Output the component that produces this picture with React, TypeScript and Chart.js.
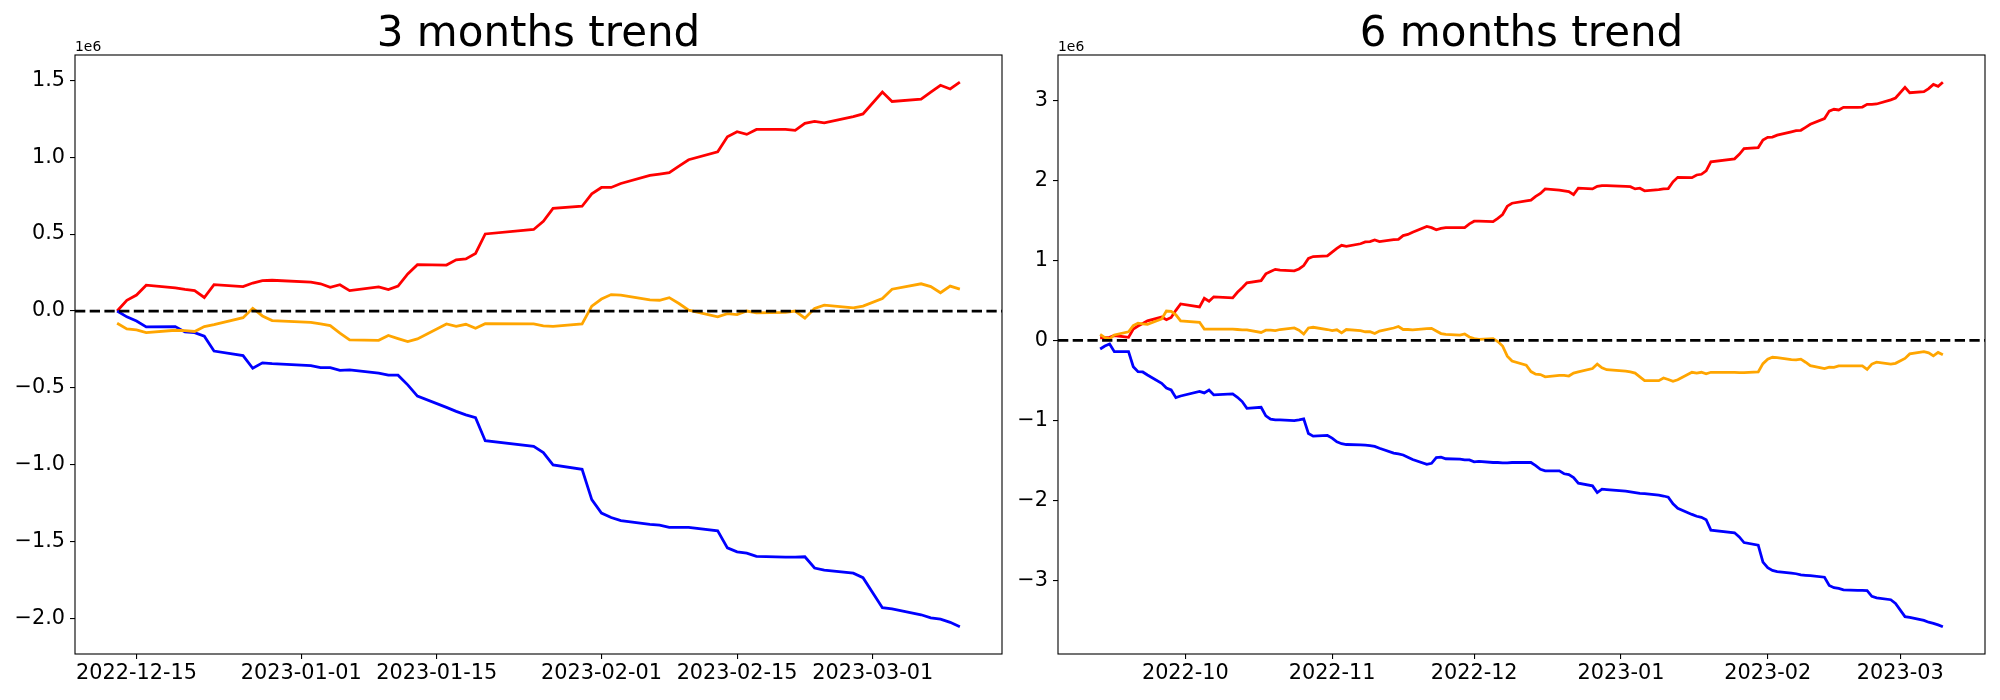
import React, { useEffect, useRef } from "react";
import { Chart, registerables } from "chart.js";

Chart.register(...registerables);

const SCALE = 1e6;

// trading days of the 6-month window
const dates6 = [
  "2022-09-13", "2022-09-14", "2022-09-15", "2022-09-16", "2022-09-19", "2022-09-20", "2022-09-21", "2022-09-22", "2022-09-23",
  "2022-09-26", "2022-09-27", "2022-09-28", "2022-09-29", "2022-09-30", "2022-10-04", "2022-10-05", "2022-10-06", "2022-10-07",
  "2022-10-11", "2022-10-12", "2022-10-13", "2022-10-14", "2022-10-17", "2022-10-18", "2022-10-19", "2022-10-20", "2022-10-21",
  "2022-10-24", "2022-10-25", "2022-10-26", "2022-10-27", "2022-10-28", "2022-10-31", "2022-11-01", "2022-11-02", "2022-11-03",
  "2022-11-04", "2022-11-07", "2022-11-08", "2022-11-09", "2022-11-10", "2022-11-11", "2022-11-14", "2022-11-15", "2022-11-16",
  "2022-11-17", "2022-11-18", "2022-11-21", "2022-11-22", "2022-11-23", "2022-11-24", "2022-11-25", "2022-11-28", "2022-11-29",
  "2022-11-30", "2022-12-01", "2022-12-02", "2022-12-05", "2022-12-06", "2022-12-07", "2022-12-08", "2022-12-09", "2022-12-12",
  "2022-12-13", "2022-12-14", "2022-12-15", "2022-12-16", "2022-12-19", "2022-12-20", "2022-12-21", "2022-12-22", "2022-12-23",
  "2022-12-26", "2022-12-27", "2022-12-28", "2022-12-29", "2023-01-02", "2023-01-03", "2023-01-04", "2023-01-05", "2023-01-06",
  "2023-01-09", "2023-01-10", "2023-01-11", "2023-01-12", "2023-01-13", "2023-01-16", "2023-01-17", "2023-01-18", "2023-01-19",
  "2023-01-20", "2023-01-25", "2023-01-26", "2023-01-27", "2023-01-30", "2023-01-31", "2023-02-01", "2023-02-02", "2023-02-03",
  "2023-02-06", "2023-02-07", "2023-02-08", "2023-02-09", "2023-02-10", "2023-02-13", "2023-02-14", "2023-02-15", "2023-02-16",
  "2023-02-17", "2023-02-20", "2023-02-21", "2023-02-22", "2023-02-23", "2023-02-24", "2023-02-27", "2023-02-28", "2023-03-02",
  "2023-03-03", "2023-03-06", "2023-03-07", "2023-03-08", "2023-03-09", "2023-03-10",
];

// 6-month series (in units of 1e6)
const red6 = [
  0.033, 0.035, 0.038, 0.061, 0.038, 0.141, 0.179, 0.211, 0.244,
  0.291, 0.258, 0.287, 0.376, 0.456, 0.418, 0.526, 0.489, 0.545,
  0.531, 0.602, 0.658, 0.719, 0.747, 0.832, 0.86, 0.888, 0.879,
  0.869, 0.893, 0.935, 1.024, 1.048, 1.057, 1.104, 1.151, 1.189,
  1.175, 1.208, 1.231, 1.236, 1.255, 1.236, 1.259, 1.264, 1.311,
  1.325, 1.353, 1.424, 1.41, 1.382, 1.4, 1.41, 1.41, 1.41,
  1.457, 1.49, 1.49, 1.485, 1.527, 1.574, 1.678, 1.715, 1.743,
  1.753, 1.8, 1.837, 1.894, 1.88, 1.87, 1.861, 1.823, 1.903,
  1.894, 1.927, 1.936, 1.936, 1.927, 1.922, 1.894, 1.903, 1.87,
  1.884, 1.894, 1.898, 1.983, 2.039, 2.035, 2.068, 2.077, 2.119,
  2.232, 2.27, 2.326, 2.397, 2.411, 2.505, 2.538, 2.542, 2.566,
  2.608, 2.622, 2.627, 2.664, 2.702, 2.773, 2.867, 2.89, 2.881,
  2.914, 2.914, 2.918, 2.951, 2.951, 2.956, 3.008, 3.031, 3.163,
  3.097, 3.111, 3.148, 3.2, 3.177, 3.228,
];
const blue6 = [
  -0.108, -0.07, -0.046, -0.141, -0.141, -0.329, -0.391, -0.395, -0.433,
  -0.537, -0.595, -0.62, -0.716, -0.695, -0.637, -0.657, -0.62, -0.682,
  -0.67, -0.711, -0.765, -0.849, -0.836, -0.944, -0.986, -0.994, -0.994,
  -1.003, -0.994, -0.982, -1.165, -1.198, -1.189, -1.222, -1.269, -1.292,
  -1.302, -1.306, -1.311, -1.316, -1.325, -1.349, -1.41, -1.419, -1.433,
  -1.461, -1.49, -1.551, -1.537, -1.466, -1.461, -1.48, -1.485, -1.494,
  -1.494, -1.518, -1.513, -1.527, -1.527, -1.532, -1.532, -1.527, -1.527,
  -1.527, -1.565, -1.612, -1.631, -1.631, -1.668, -1.678, -1.715, -1.786,
  -1.819, -1.903, -1.861, -1.866, -1.884, -1.894, -1.903, -1.913, -1.917,
  -1.936, -1.946, -1.96, -2.044, -2.1, -2.176, -2.199, -2.213, -2.242,
  -2.373, -2.406, -2.458, -2.528, -2.561, -2.773, -2.843, -2.876, -2.89,
  -2.909, -2.918, -2.932, -2.937, -2.942, -2.961, -3.064, -3.092, -3.101,
  -3.12, -3.125, -3.125, -3.13, -3.2, -3.219, -3.243, -3.29, -3.454,
  -3.464, -3.501, -3.524, -3.538, -3.557, -3.581,
];
const orange6 = [
  0.075, 0.035, 0.018, 0.068, 0.108, 0.185, 0.215, 0.205, 0.2,
  0.268, 0.367, 0.362, 0.32, 0.244, 0.226, 0.141, 0.141, 0.141,
  0.141, 0.136, 0.132, 0.132, 0.099, 0.127, 0.127, 0.122, 0.136,
  0.155, 0.127, 0.08, 0.155, 0.164, 0.136, 0.122, 0.132, 0.094,
  0.136, 0.122, 0.108, 0.108, 0.085, 0.117, 0.155, 0.174, 0.136,
  0.136, 0.132, 0.146, 0.15, 0.117, 0.085, 0.075, 0.066, 0.08,
  0.042, 0.023, 0.014, 0.023, -0.014, -0.07, -0.197, -0.258, -0.31,
  -0.39, -0.423, -0.428, -0.456, -0.437, -0.437, -0.446, -0.409, -0.395,
  -0.352, -0.296, -0.343, -0.367, -0.385, -0.395, -0.409, -0.456, -0.503,
  -0.503, -0.47, -0.489, -0.512, -0.493, -0.399, -0.409, -0.399, -0.418,
  -0.399, -0.399, -0.404, -0.404, -0.395, -0.291, -0.235, -0.211, -0.216,
  -0.24, -0.244, -0.235, -0.273, -0.315, -0.352, -0.334, -0.338, -0.32,
  -0.32, -0.32, -0.32, -0.362, -0.296, -0.273, -0.296, -0.287, -0.226,
  -0.169, -0.141, -0.155, -0.193, -0.15, -0.179,
];

// trading days of the 3-month window
const dates3 = dates6.slice(dates6.indexOf("2022-12-13"));

// 3-month series (in units of 1e6)
const red3 = [
  0, 0.07, 0.104, 0.168, 0.15, 0.14, 0.133, 0.088, 0.172, 0.159,
  0.182, 0.197, 0.2, 0.188, 0.177, 0.154, 0.171, 0.133, 0.157, 0.139,
  0.162, 0.241, 0.301, 0.299, 0.333, 0.339, 0.374, 0.501, 0.53, 0.583,
  0.667, 0.681, 0.762, 0.803, 0.803, 0.829, 0.881, 0.89, 0.899, 0.942,
  0.983, 1.035, 1.133, 1.165, 1.148, 1.18, 1.18, 1.174, 1.22, 1.232,
  1.223, 1.264, 1.281, 1.423, 1.362, 1.377, 1.423, 1.467, 1.443, 1.487,
];
const blue3 = [
  0, -0.038, -0.065, -0.103, -0.101, -0.136, -0.141, -0.164, -0.26, -0.29,
  -0.372, -0.337, -0.342, -0.355, -0.368, -0.368, -0.386, -0.383, -0.403, -0.417,
  -0.417, -0.48, -0.553, -0.626, -0.652, -0.675, -0.693, -0.843, -0.88, -0.92,
  -1.0, -1.029, -1.226, -1.313, -1.342, -1.362, -1.386, -1.391, -1.406, -1.406,
  -1.406, -1.429, -1.539, -1.565, -1.574, -1.594, -1.6, -1.6, -1.597, -1.67,
  -1.684, -1.704, -1.733, -1.928, -1.936, -1.974, -1.994, -2.003, -2.023, -2.052,
];
const orange3 = [
  -0.079, -0.116, -0.123, -0.14, -0.125, -0.127, -0.133, -0.101, -0.088, -0.043,
  0.018, -0.032, -0.062, -0.073, -0.084, -0.095, -0.144, -0.188, -0.19, -0.159,
  -0.179, -0.198, -0.181, -0.084, -0.099, -0.086, -0.112, -0.082, -0.084, -0.096,
  -0.099, -0.084, 0.032, 0.078, 0.107, 0.104, 0.072, 0.07, 0.087, 0.049,
  0.006, -0.038, -0.017, -0.023, 0.0, -0.012, -0.009, 0.0, -0.046, 0.017,
  0.038, 0.02, 0.032, 0.081, 0.142, 0.177, 0.159, 0.119, 0.162, 0.142,
];

// ticks
const yTicks3 = [-2.0, -1.5, -1.0, -0.5, 0.0, 0.5, 1.0, 1.5];
const yTicks6 = [-3, -2, -1, 0, 1, 2, 3];
const xTickDates3 = ["2022-12-15", "2023-01-01", "2023-01-15", "2023-02-01", "2023-02-15", "2023-03-01"];
const xTickLabels3 = ["2022-12-15", "2023-01-01", "2023-01-15", "2023-02-01", "2023-02-15", "2023-03-01"];
const xTickDates6 = ["2022-10-01", "2022-11-01", "2022-12-01", "2023-01-01", "2023-02-01", "2023-03-01"];
const xTickLabels6 = ["2022-10", "2022-11", "2022-12", "2023-01", "2023-02", "2023-03"];

const titles = ["3 months trend", "6 months trend"];
const offsetText = "1e6";

const FONT = '"DejaVu Sans", "Liberation Sans", sans-serif';

function dayNum(s: string): number {
  return Date.UTC(+s.slice(0, 4), +s.slice(5, 7) - 1, +s.slice(8, 10)) / 86400000;
}

function fmtNum(v: number, dec: number): string {
  const r = Math.abs(v) < 1e-9 ? 0 : v;
  const s = Math.abs(r).toFixed(dec);
  return r < 0 ? "\u2212" + s : s;
}

type Spec = {
  dates: string[];
  red: number[];
  blue: number[];
  orange: number[];
  yTicks: number[];
  yDec: number;
  xTickDates: string[];
  xTickLabels: string[];
  title: string;
  padLeft: number;
  padRight: number;
};

function makeChart(canvas: HTMLCanvasElement, spec: Spec) {
  const xs = spec.dates.map(dayNum);
  const xMin0 = Math.min(...xs);
  const xMax0 = Math.max(...xs);
  const xr = xMax0 - xMin0;
  const xMin = xMin0 - 0.05 * xr;
  const xMax = xMax0 + 0.05 * xr;
  const allY = [...spec.red, ...spec.blue, ...spec.orange];
  const yMin0 = Math.min(...allY);
  const yMax0 = Math.max(...allY);
  const yr = yMax0 - yMin0;
  const yMin = (yMin0 - 0.05 * yr) * SCALE;
  const yMax = (yMax0 + 0.05 * yr) * SCALE;

  const series = (vals: number[]) => vals.map((v, i) => ({ x: xs[i], y: v * SCALE }));

  const framePlugin = {
    id: "frameAndTitle",
    afterDraw(chart: any) {
      const { ctx, chartArea } = chart;
      const { left, top, right, bottom } = chartArea;
      ctx.save();
      ctx.strokeStyle = "#000";
      ctx.lineWidth = 1.1;
      ctx.strokeRect(left, top, right - left, bottom - top);
      ctx.fillStyle = "#000";
      ctx.textBaseline = "alphabetic";
      ctx.textAlign = "center";
      ctx.font = `42px ${FONT}`;
      ctx.fillText(spec.title, (left + right) / 2, top - 8.6);
      ctx.textAlign = "left";
      ctx.font = `13.9px ${FONT}`;
      ctx.fillText(offsetText, left, top - 4.5);
      ctx.restore();
    },
  };

  const lineDs = (label: string, vals: number[], color: string, order: number) => ({
    label,
    data: series(vals),
    borderColor: color,
    backgroundColor: color,
    borderWidth: 2.78,
    pointRadius: 0,
    pointHoverRadius: 0,
    tension: 0,
    fill: false,
    order,
  });

  return new Chart(canvas, {
    type: "line",
    data: {
      datasets: [
        {
          label: "zero",
          data: [
            { x: xMin, y: 0 },
            { x: xMax, y: 0 },
          ],
          borderColor: "#000",
          borderWidth: 2.78,
          borderDash: [10.3, 4.4],
          pointRadius: 0,
          pointHoverRadius: 0,
          fill: false,
          order: 0,
        },
        lineDs("orange", spec.orange, "#ffa500", 1),
        lineDs("blue", spec.blue, "#0000ff", 2),
        lineDs("red", spec.red, "#ff0000", 3),
      ],
    },
    options: {
      responsive: false,
      animation: false,
      devicePixelRatio: 1,
      layout: { padding: { left: spec.padLeft, right: spec.padRight, top: 55, bottom: 0 } },
      plugins: {
        legend: { display: false },
        tooltip: { enabled: false },
        title: { display: false },
      },
      events: [],
      scales: {
        x: {
          type: "linear",
          min: xMin,
          max: xMax,
          afterFit: (scale: any) => {
            scale.height = 46;
          },
          afterBuildTicks: (scale: any) => {
            scale.ticks = spec.xTickDates.map((d) => ({ value: dayNum(d) }));
          },
          border: { display: false },
          grid: {
            display: true,
            drawOnChartArea: false,
            drawTicks: true,
            tickLength: 5,
            color: "#000",
            lineWidth: 1.1,
          },
          ticks: {
            autoSkip: false,
            maxRotation: 0,
            minRotation: 0,
            padding: 2,
            color: "#000",
            font: { family: FONT, size: 20.8 },
            callback: (_v: any, i: number) => spec.xTickLabels[i],
          },
        },
        y: {
          type: "linear",
          min: yMin,
          max: yMax,
          afterFit: (scale: any) => {
            scale.width = 75;
          },
          afterBuildTicks: (scale: any) => {
            scale.ticks = spec.yTicks.map((v) => ({ value: v * SCALE }));
          },
          border: { display: false },
          grid: {
            display: true,
            drawOnChartArea: false,
            drawTicks: true,
            tickLength: 5,
            color: "#000",
            lineWidth: 1.1,
          },
          ticks: {
            autoSkip: false,
            padding: 5,
            color: "#000",
            font: { family: FONT, size: 20.8 },
            callback: (v: any) => fmtNum(Number(v) / SCALE, spec.yDec),
          },
        },
      },
    },
    plugins: [framePlugin],
  } as any);
}

export default function App() {
  const ref1 = useRef<HTMLCanvasElement | null>(null);
  const ref2 = useRef<HTMLCanvasElement | null>(null);

  useEffect(() => {
    if (!ref1.current || !ref2.current) return;
    const c1 = makeChart(ref1.current, {
      dates: dates3,
      red: red3,
      blue: blue3,
      orange: orange3,
      yTicks: yTicks3,
      yDec: 1,
      xTickDates: xTickDates3,
      xTickLabels: xTickLabels3,
      title: titles[0],
      padLeft: 0,
      padRight: 998,
    });
    const c2 = makeChart(ref2.current, {
      dates: dates6,
      red: red6,
      blue: blue6,
      orange: orange6,
      yTicks: yTicks6,
      yDec: 0,
      xTickDates: xTickDates6,
      xTickLabels: xTickLabels6,
      title: titles[1],
      padLeft: 983,
      padRight: 15,
    });
    return () => {
      c1.destroy();
      c2.destroy();
    };
  }, []);

  const canvasStyle: React.CSSProperties = {
    position: "absolute",
    left: 0,
    top: 0,
    width: 2000,
    height: 700,
  };

  return (
    <div
      style={{
        position: "fixed",
        left: 0,
        top: 0,
        width: 2000,
        height: 700,
        background: "#fff",
        overflow: "hidden",
      }}
    >
      <canvas ref={ref1} width={2000} height={700} style={canvasStyle} />
      <canvas ref={ref2} width={2000} height={700} style={canvasStyle} />
    </div>
  );
}
